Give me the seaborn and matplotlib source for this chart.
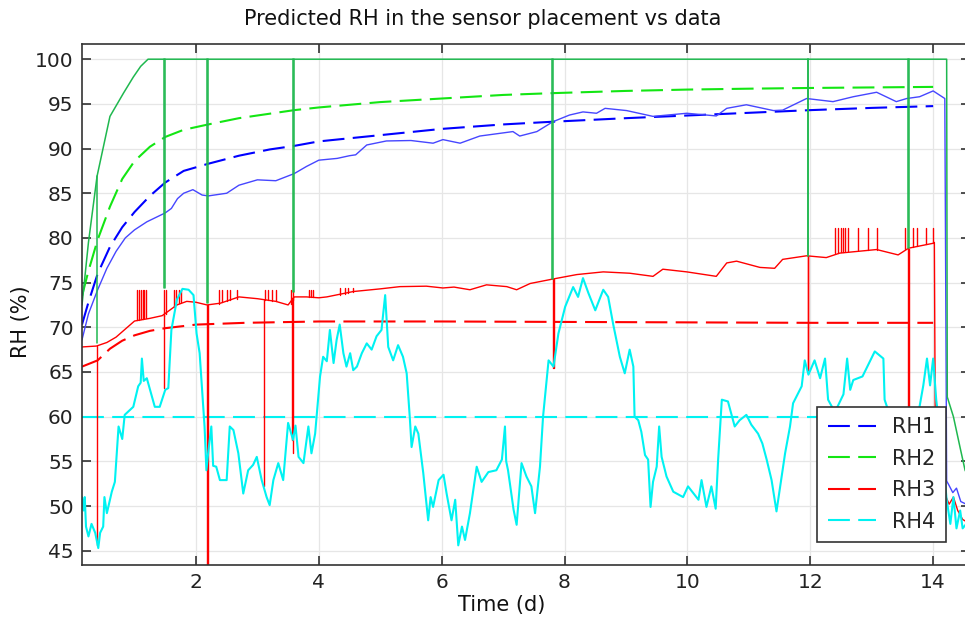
import numpy as np
import pandas as pd
import matplotlib
matplotlib.use("Agg")
import matplotlib.pyplot as plt
import seaborn as sns

# ---------------- model predictions (dashed) ----------------
model_t = [0.145, 0.25, 0.4, 0.6, 0.8, 1.0, 1.25, 1.5, 1.8, 2.2, 2.7, 3.2, 3.6, 4.0,
           5.0, 6.0, 7.0, 7.8, 9.0, 10.0, 11.0, 12.0, 13.0, 14.0]
rh1_model = [70.3, 72.8, 76.0, 79.0, 81.2, 82.9, 84.7, 86.2, 87.5, 88.3, 89.2, 89.9, 90.3, 90.8,
             91.5, 92.2, 92.7, 93.0, 93.4, 93.7, 94.0, 94.3, 94.55, 94.75]
rh2_model = [73.5, 76.3, 79.8, 83.5, 86.6, 88.6, 90.2, 91.3, 92.1, 92.7, 93.4, 93.9, 94.3, 94.6,
             95.2, 95.6, 96.0, 96.2, 96.45, 96.6, 96.7, 96.78, 96.84, 96.9]
rh3_model_t = [0.145, 0.4, 0.6, 0.8, 1.0, 1.25, 1.5, 2.0, 2.8, 4.0, 6.0, 8.0, 10.0, 12.0, 14.0]
rh3_model = [65.6, 66.3, 67.6, 68.5, 69.1, 69.6, 69.9, 70.3, 70.5, 70.65, 70.65, 70.6, 70.55, 70.5, 70.5]
rh4_model_t = [0.145, 14.0]
rh4_model = [60.0, 60.0]

# ---------------- measured data (solid) ----------------
rh1_data_t = [0.145, 0.25, 0.4, 0.55, 0.7, 0.85, 1.0, 1.2, 1.5, 1.6, 1.7, 1.8, 1.95, 2.1, 2.2,
              2.5, 2.7, 3.0, 3.3, 3.6, 3.8, 4.0, 4.3, 4.5, 4.6, 4.78, 5.1, 5.5, 5.86, 6.02,
              6.3, 6.62, 7.16, 7.27, 7.55, 7.81, 8.08, 8.3, 8.52, 8.66, 9.01, 9.44, 9.99,
              10.47, 10.64, 10.96, 11.4, 11.55, 11.94, 12.37, 12.7, 13.08, 13.4, 13.57,
              13.78, 14.0, 14.19, 14.22, 14.26, 14.32, 14.38, 14.45, 14.6]
rh1_data = [68.6, 71.5, 74.2, 76.6, 78.5, 80.0, 80.9, 81.8, 82.8, 83.3, 84.4, 85.0, 85.4, 84.8, 84.7,
            85.0, 85.9, 86.5, 86.4, 87.2, 88.0, 88.7, 88.9, 89.2, 89.3, 90.4, 90.85, 90.9, 90.6, 91.0,
            90.6, 91.4, 91.9, 91.4, 91.9, 93.0, 93.75, 94.1, 93.95, 94.5, 94.25, 93.6, 93.95,
            93.65, 94.5, 94.9, 94.25, 94.3, 95.6, 95.25, 95.8, 96.3, 95.25, 95.6,
            95.8, 96.45, 95.6, 52.8, 52.3, 51.5, 52.0, 50.5, 50.0]

rh2_data_t = [0.145, 0.25, 0.39, 0.6, 0.82, 0.98, 1.1, 1.22, 14.22, 14.23, 14.33, 14.44, 14.52, 14.6]
rh2_data = [72.5, 79.5, 86.9, 93.6, 96.2, 98.0, 99.2, 100.0, 100.0, 62.2, 60.0, 56.5, 54.0, 53.0]
rh2_drop_t = [0.39, 1.485, 1.5, 2.175, 2.19, 3.575, 3.59, 7.80, 7.815, 11.955, 11.97, 13.585, 13.6]
rh2_drop_lo = [68.2, 74.4, 74.4, 72.7, 72.7, 74.0, 74.0, 75.4, 75.4, 78.0, 78.0, 78.9, 78.9]
rh2_drop_hi = [86.9, 100.0, 100.0, 100.0, 100.0, 100.0, 100.0, 100.0, 100.0, 100.0, 100.0, 100.0, 100.0]

rh3_data_t = [0.145, 0.38, 0.55, 0.7, 0.85, 1.0, 1.25, 1.45, 1.55, 1.69, 1.85, 2.0, 2.18, 2.4, 2.7,
              3.0, 3.3, 3.5, 3.6, 3.8, 4.0, 4.13, 4.56, 5.0, 5.32, 5.75, 6.02, 6.2, 6.46, 6.73,
              7.06, 7.22, 7.44, 7.81, 8.2, 8.63, 9.06, 9.44, 9.6, 9.99, 10.47, 10.64, 10.8, 11.18,
              11.42, 11.55, 11.94, 12.26, 12.48, 13.08, 13.43, 13.6, 14.0, 14.02, 14.04, 14.2,
              14.26, 14.33, 14.4, 14.48, 14.6]
rh3_data = [67.8, 67.9, 68.3, 68.9, 69.8, 70.7, 71.0, 71.3, 71.8, 72.5, 72.9, 72.8, 72.5, 72.7, 73.4,
            73.2, 72.9, 72.5, 73.4, 73.4, 73.3, 73.4, 74.0, 74.3, 74.55, 74.6, 74.4, 74.5, 74.2, 74.75,
            74.55, 74.2, 74.9, 75.4, 75.9, 76.2, 76.05, 75.7, 76.5, 76.2, 75.7, 77.2, 77.4, 76.7,
            76.6, 77.6, 78.0, 77.8, 78.3, 78.7, 78.1, 78.85, 79.4, 79.5, 51.0, 51.2,
            50.2, 51.0, 49.5, 48.5, 48.0]
rh3_drop_t = [0.39, 1.485, 2.18, 2.195, 3.10, 3.56, 3.585, 7.81, 7.825, 11.955, 11.97, 13.59, 13.605]
rh3_drop_hi = [67.9, 71.4, 72.5, 72.5, 73.0, 73.3, 73.4, 75.4, 75.4, 78.0, 78.0, 78.8, 78.8]
rh3_drop_lo = [45.6, 63.2, 40.0, 40.0, 52.2, 57.4, 55.9, 65.4, 65.4, 65.2, 65.2, 48.0, 48.0]
rh3_jump_t = [1.04, 1.07, 1.10, 1.13, 1.16, 1.19, 1.48, 1.52, 1.64, 1.68, 1.72, 1.76,
              2.37, 2.43, 2.50, 2.55, 2.66, 3.13, 3.18, 3.24, 3.30, 3.54, 3.58, 3.84, 3.88, 3.91,
              4.35, 4.42, 4.48, 4.55, 12.41, 12.45, 12.50, 12.53, 12.56, 12.61, 12.78, 12.94, 13.08,
              13.55, 13.68, 13.73, 13.89, 13.99]
rh3_jump_lo = [70.8, 70.8, 70.9, 70.9, 71.0, 71.0, 71.3, 71.5, 72.3, 72.5, 72.7, 72.8,
               72.6, 72.8, 72.9, 73.0, 73.2, 73.0, 73.0, 72.9, 72.9, 72.6, 73.0, 73.4, 73.4, 73.4,
               73.6, 73.7, 73.8, 73.9, 78.3, 78.3, 78.4, 78.4, 78.5, 78.5, 78.6, 78.7, 78.7,
               78.8, 79.0, 79.1, 79.3, 79.4]
rh3_jump_hi = [74.2, 74.2, 74.2, 74.2, 74.2, 74.2, 74.2, 74.2, 74.2, 74.2, 74.2, 74.2,
               74.2, 74.2, 74.2, 74.2, 74.2, 74.2, 74.2, 74.2, 74.2, 74.2, 74.2, 74.2, 74.2, 74.2,
               74.4, 74.4, 74.4, 74.4, 81.1, 81.1, 81.1, 81.1, 81.1, 81.1, 81.1, 81.1, 81.1,
               81.1, 81.1, 81.1, 81.1, 81.1]

rh4_data_t = [0.145, 0.17, 0.19, 0.21, 0.25, 0.30, 0.36, 0.41, 0.44, 0.49, 0.51, 0.55, 0.63, 0.68,
              0.74, 0.80, 0.84, 0.98, 1.06, 1.10, 1.12, 1.15, 1.20, 1.33, 1.41, 1.50, 1.55, 1.60,
              1.69, 1.78, 1.88, 1.96, 2.01, 2.06, 2.14, 2.17, 2.20, 2.25, 2.28, 2.33, 2.39, 2.50,
              2.55, 2.61, 2.69, 2.77, 2.85, 2.93, 2.99, 3.07, 3.15, 3.20, 3.26, 3.34, 3.42, 3.50,
              3.58, 3.62, 3.67, 3.75, 3.83, 3.88, 3.94, 4.02, 4.07, 4.13, 4.18, 4.24, 4.29, 4.34,
              4.40, 4.45, 4.51, 4.56, 4.62, 4.70, 4.78, 4.86, 4.94, 5.02, 5.08, 5.13, 5.21, 5.29,
              5.37, 5.43, 5.48, 5.51, 5.57, 5.62, 5.70, 5.78, 5.82, 5.86, 5.95, 6.03, 6.08, 6.16,
              6.22, 6.27, 6.33, 6.38, 6.46, 6.57, 6.65, 6.76, 6.89, 6.98, 7.03, 7.05, 7.08, 7.17,
              7.22, 7.30, 7.38, 7.46, 7.52, 7.60, 7.65, 7.74, 7.82, 7.90, 8.01, 8.14, 8.22, 8.30,
              8.39, 8.50, 8.63, 8.71, 8.79, 8.90, 8.98, 9.06, 9.12, 9.14, 9.20, 9.25, 9.31, 9.36,
              9.40, 9.44, 9.50, 9.54, 9.58, 9.66, 9.77, 9.93, 10.01, 10.10, 10.18, 10.23, 10.31,
              10.39, 10.46, 10.50, 10.56, 10.66, 10.77, 10.85, 10.96, 11.04, 11.15, 11.22, 11.29,
              11.37, 11.45, 11.51, 11.59, 11.67, 11.72, 11.86, 11.91, 11.97, 12.07, 12.16, 12.24,
              12.29, 12.40, 12.54, 12.60, 12.65, 12.70, 12.85, 13.05, 13.19, 13.21, 13.40, 13.60,
              13.75, 13.84, 13.90, 13.95, 14.00, 14.05, 14.15, 14.22, 14.28, 14.33, 14.38, 14.44,
              14.48, 14.6]
rh4_data = [51.0, 49.5, 51.0, 47.7, 46.6, 48.0, 47.0, 45.3, 47.0, 47.7, 51.0, 49.2, 51.6, 52.7,
            58.9, 57.5, 60.2, 61.1, 63.4, 63.8, 66.5, 64.0, 64.3, 61.1, 61.1, 63.0, 63.2, 69.7,
            73.1, 74.3, 74.2, 73.6, 69.3, 67.1, 58.9, 54.0, 56.0, 58.9, 54.5, 54.4, 52.9, 52.9,
            58.9, 58.5, 55.9, 51.4, 54.0, 54.6, 55.5, 52.9, 51.0, 50.1, 52.9, 54.8, 52.9, 59.3,
            57.4, 59.0, 55.5, 54.8, 58.9, 55.9, 58.1, 64.5, 66.7, 66.2, 69.7, 66.0, 68.6, 70.3,
            67.1, 65.6, 67.1, 65.2, 65.6, 67.1, 68.2, 67.5, 69.0, 69.7, 73.6, 67.8, 66.3, 68.0,
            66.7, 64.85, 60.0, 56.6, 58.9, 58.1, 53.7, 48.4, 51.0, 49.9, 52.9, 53.5, 51.4, 48.4,
            50.7, 45.6, 47.7, 46.2, 49.2, 54.4, 52.7, 53.8, 54.0, 55.2, 58.9, 55.0, 54.0, 49.6,
            47.9, 54.8, 53.3, 52.2, 49.2, 54.4, 60.0, 66.3, 65.6, 69.3, 72.3, 74.5, 73.4, 75.5,
            73.8, 71.9, 74.2, 73.4, 70.4, 66.7, 64.85, 67.5, 65.6, 60.0, 59.6, 58.3, 55.7, 55.2,
            49.9, 52.7, 54.4, 58.9, 55.5, 53.3, 51.6, 51.0, 52.2, 51.4, 50.7, 52.9, 49.9,
            52.2, 49.7, 55.2, 61.9, 61.7, 58.9, 59.6, 60.2, 59.1, 58.1, 57.0, 55.2,
            52.9, 49.4, 52.2, 55.9, 58.9, 61.5, 63.4, 66.3, 64.7, 66.3, 64.3, 66.5,
            61.9, 60.5, 62.5, 66.5, 63.0, 64.1, 64.5, 67.3, 66.5, 61.9, 58.0, 57.0,
            60.0, 63.5, 66.5, 63.5, 66.5, 61.9, 56.0, 50.7, 48.0, 51.0, 47.5, 49.5,
            47.5, 48.5]

series_labels = ["RH1", "RH2", "RH3", "RH4"]
xticks = [2, 4, 6, 8, 10, 12, 14]
yticks = [45, 50, 55, 60, 65, 70, 75, 80, 85, 90, 95, 100]

# ---------------- style ----------------
sns.set_theme(style="white")
plt.rcParams["font.family"] = ["DejaVu Sans"]

C_BLUE, C_BLUE_D = "#0000ff", "#4646ff"
C_GREEN, C_GREEN_D = "#13e613", "#1fb84f"
C_RED = "#ff0000"
C_CYAN = "#00f2f2"

fig = plt.figure(figsize=(9.65, 6.22), dpi=100)
ax = fig.add_axes([82 / 965, 1 - 565 / 622, 888 / 965, 521 / 622])


def seg_table(ts, lo, hi):
    rows = []
    for i, (t, a, b) in enumerate(zip(ts, lo, hi)):
        rows.append((t, a, i))
        rows.append((t, b, i))
    return pd.DataFrame(rows, columns=["t", "v", "id"])


dash = (0, (10.5, 4))
# model lines
sns.lineplot(x=model_t, y=rh1_model, ax=ax, color=C_BLUE, lw=1.5, linestyle=dash,
             estimator=None, sort=False, label=series_labels[0])
sns.lineplot(x=model_t, y=rh2_model, ax=ax, color=C_GREEN, lw=1.5, linestyle=dash,
             estimator=None, sort=False, label=series_labels[1])
sns.lineplot(x=rh3_model_t, y=rh3_model, ax=ax, color=C_RED, lw=1.5, linestyle=dash,
             estimator=None, sort=False, label=series_labels[2])
sns.lineplot(x=rh4_model_t, y=rh4_model, ax=ax, color=C_CYAN, lw=1.5, linestyle=dash,
             estimator=None, sort=False, label=series_labels[3])
model_handles = list(ax.get_lines())

# measured lines
sns.lineplot(x=rh3_data_t, y=rh3_data, ax=ax, color=C_RED, lw=1.0, estimator=None, sort=False, legend=False)
sns.lineplot(data=seg_table(rh3_drop_t, rh3_drop_lo, rh3_drop_hi), x="t", y="v", units="id",
             estimator=None, ax=ax, color=C_RED, lw=1.0, legend=False)
sns.lineplot(data=seg_table(rh3_jump_t, rh3_jump_lo, rh3_jump_hi), x="t", y="v", units="id",
             estimator=None, ax=ax, color=C_RED, lw=1.0, legend=False)
sns.lineplot(x=rh1_data_t, y=rh1_data, ax=ax, color=C_BLUE_D, lw=1.0, estimator=None, sort=False, legend=False)
sns.lineplot(x=rh2_data_t, y=rh2_data, ax=ax, color=C_GREEN_D, lw=1.1, estimator=None, sort=False, legend=False)
sns.lineplot(data=seg_table(rh2_drop_t, rh2_drop_lo, rh2_drop_hi), x="t", y="v", units="id",
             estimator=None, ax=ax, color=C_GREEN_D, lw=1.1, legend=False)
sns.lineplot(x=rh4_data_t, y=rh4_data, ax=ax, color=C_CYAN, lw=1.5, estimator=None, sort=False, legend=False)

# axes
ax.set_xlim(0.145, 14.6)
ax.set_ylim(43.4, 101.7)
ax.set_xticks(xticks)
ax.set_yticks(yticks)
ax.grid(True, color="#e6e6e6", lw=0.9)
ax.set_axisbelow(True)
ax.tick_params(axis="both", direction="in", length=6.5, width=1.1, colors="#222222",
               labelsize=14.5, pad=6, top=True, right=True, bottom=True, left=True)
for s in ax.spines.values():
    s.set_color("#333333")
    s.set_linewidth(1.2)

ax.set_xlabel("Time (d)", fontsize=15, color="#111111")
ax.xaxis.set_label_coords((502 - 82) / 888, (565 - 595) / 521)
ax.set_ylabel("RH (%)", fontsize=15, color="#111111")
ax.yaxis.set_label_coords((31 - 82) / 888, (565 - 322) / 521)

fig.text(0.5, 1 - 19 / 622, "Predicted RH in the sensor placement vs data",
         ha="center", va="center", fontsize=15, color="#111111")

leg = ax.legend(model_handles, series_labels, loc="lower right",
                bbox_to_anchor=((946 - 82) / 888, (565 - 542) / 521),
                fontsize=15, frameon=True, fancybox=False, framealpha=1,
                edgecolor="#333333", handlelength=2.3, labelspacing=0.55,
                borderpad=0.5, handletextpad=0.8, borderaxespad=0)
leg.get_frame().set_linewidth(1.2)

fig.savefig("out.png", dpi=100)
